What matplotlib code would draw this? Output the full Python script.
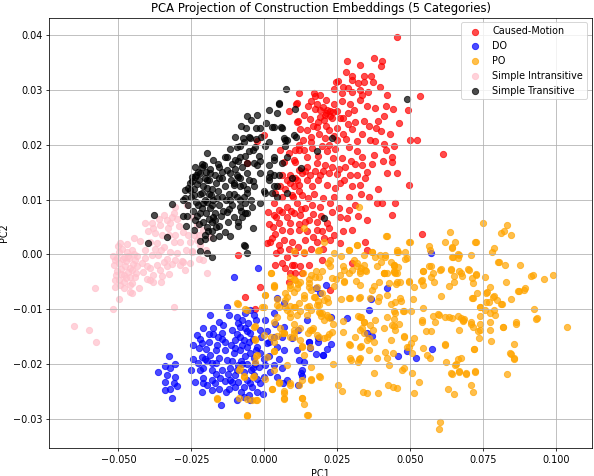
import matplotlib
matplotlib.use("Agg")
import matplotlib.pyplot as plt
import numpy as np

categories = ["Caused-Motion", "DO", "PO", "Simple Intransitive", "Simple Transitive"]
colors = ["red", "blue", "orange", "pink", "black"]

# (PC1, PC2), in units of 1e-3
caused_motion = [
    (45.5, 39.7), (37.6, 35.8), (40.3, 35.2), (39.9, 34.4), (28.3, 35.3), (32.6, 34.6), (28.0, 33.2),
    (30.0, 32.6), (34.2, 32.6), (25.1, 31.7), (24.5, 31.4), (30.0, 31.8), (31.9, 31.2), (34.0, 31.4),
    (37.2, 31.4), (23.7, 30.1), (26.6, 29.5), (28.5, 30.4), (30.0, 29.7), (32.6, 30.0), (35.4, 29.7),
    (42.0, 29.1), (12.0, 29.5), (17.1, 29.5), (18.9, 29.1), (17.5, 28.8), (10.9, 27.5), (14.8, 27.0),
    (17.5, 26.6), (19.2, 26.4), (21.5, 26.4), (22.6, 26.1), (24.0, 27.5), (26.7, 28.0), (29.4, 27.5),
    (32.6, 28.2), (35.1, 27.1), (37.9, 26.7), (41.5, 27.1), (8.3, 26.2), (49.3, 26.4), (20.8, 25.5),
    (23.1, 24.9), (26.0, 24.9), (28.5, 25.8), (30.6, 26.4), (11.5, 24.4), (15.5, 24.7), (18.3, 24.2),
    (20.3, 24.5), (28.5, 23.8), (31.2, 24.2), (34.0, 24.4), (38.8, 24.4), (41.1, 25.3), (12.3, 22.8),
    (14.6, 22.6), (18.0, 23.3), (22.0, 22.7), (24.9, 23.0), (30.0, 22.8), (38.4, 23.0), (13.3, 20.9),
    (15.8, 21.5), (18.6, 22.0), (20.8, 21.2), (23.7, 21.6), (26.9, 22.0), (50.0, 20.9), (52.3, 20.9),
    (31.7, 20.6), (36.3, 20.8), (38.0, 20.6), (40.8, 20.2), (44.3, 19.7), (41.8, 19.1), (10.5, 19.1),
    (13.5, 19.1), (16.3, 19.4), (19.8, 19.7), (21.5, 18.8), (24.3, 19.2), (28.9, 19.6), (31.7, 18.9),
    (33.4, 17.8), (37.4, 18.2), (43.6, 17.8), (21.0, 25.8), (22.5, 25.2), (20.0, 26.8), (19.0, 25.0),
    (23.5, 26.0), (18.0, 27.5), (53.2, 28.8), (61.1, 18.3), (49.6, 12.7), (54.0, 3.7),
    (11.2, 27.6), (11.2, 24.2), (-2.5, 20.7), (0.0, 21.8), (5.2, 19.1), (8.3, 18.5), (11.7, 19.1),
    (10.3, 17.2), (6.6, 16.9), (-5.9, 16.6), (11.7, 15.4), (8.9, 14.5), (11.2, 13.6), (7.8, 13.6),
    (5.5, 12.4), (10.0, 12.4), (10.6, 16.8), (14.6, 16.0), (18.0, 16.6), (20.8, 16.3), (23.1, 16.0),
    (27.7, 15.9), (31.1, 16.5), (33.4, 16.3), (35.1, 15.1), (34.5, 13.9), (31.7, 14.5), (29.4, 14.5),
    (24.9, 14.7), (22.0, 14.8), (19.2, 14.5), (15.7, 14.5), (12.9, 14.8), (10.5, 13.9), (8.8, 13.0),
    (11.7, 12.7), (14.6, 13.6), (16.3, 12.4), (18.5, 13.5), (21.5, 12.7), (24.3, 12.1), (27.2, 13.5),
    (30.0, 12.4), (32.9, 12.7), (42.0, 14.8), (45.4, 14.8), (43.6, 16.9), (38.6, 9.3), (40.3, 9.3),
    (44.9, 9.3), (43.6, 7.2), (35.1, 6.3), (28.3, 6.6), (28.9, 8.1), (25.4, 8.4), (25.9, 6.9),
    (22.6, 9.3), (19.2, 8.7), (16.3, 9.0), (14.0, 8.4), (11.2, 9.3), (7.8, 8.7), (4.9, 8.1),
    (3.2, 7.2), (7.8, 6.9), (10.0, 7.5), (12.3, 7.2), (15.2, 6.3), (18.0, 6.0), (21.5, 5.7),
    (8.8, 5.7), (6.0, 4.5), (8.8, 4.2), (11.7, 4.5), (14.6, 4.2), (18.0, 4.5), (19.7, 4.2),
    (22.0, 4.8), (2.0, 2.3), (4.9, 1.7), (6.6, 2.6), (9.5, 2.3), (14.0, 2.6), (18.0, 2.3),
    (22.6, 2.6), (25.9, 2.0), (34.5, 2.3), (19.7, -1.0), (5.4, 0.8), (7.8, -0.4), (6.0, -1.6),
    (10.0, -1.9), (12.3, -2.2), (15.2, -1.9), (7.1, -2.5), (8.8, -3.4), (3.7, 11.2), (6.0, 10.5),
    (3.2, 9.3), (1.5, 5.5), (3.5, 3.8), (1.2, 7.8), (5.0, 5.8), (9.8, 10.5), (13.0, 10.8),
    (17.0, 11.0), (20.0, 10.3), (24.0, 10.5), (10.5, 0.2), (13.5, 0.2), (3.7, -1.9), (9.5, -1.9),
    (10.5, -3.4), (12.9, -3.4), (8.3, -5.0), (-1.5, -5.9), (30.0, -1.6), (35.1, 0.8), (22.6, -6.5),
    (-9.1, -0.1), (-6.7, -7.7), (-3.2, -9.9),
    (2.5, 3.0), (4.0, 6.8), (6.2, 7.8), (9.0, 8.0), (12.5, 8.2), (13.8, 6.0), (16.8, 7.3),
    (19.5, 7.0), (23.0, 7.8), (9.3, 10.8), (12.0, 11.5), (15.0, 10.2), (7.0, 12.0), (6.0, 14.5),
    (14.0, 15.2), (17.2, 15.3), (20.0, 15.2), (25.5, 15.5), (26.0, 13.0), (29.0, 10.5), (31.0, 9.0),
    (33.0, 11.0), (36.0, 10.5), (23.5, 17.5), (26.5, 17.5), (29.5, 17.0), (18.5, 18.0), (14.5, 17.8),
    (12.0, 20.0), (16.0, 20.5), (22.0, 20.0), (25.0, 20.8), (28.0, 21.0), (33.5, 22.0), (36.0, 23.5),
    (27.0, 24.8), (25.0, 26.2), (21.0, 23.5), (16.5, 23.5), (13.5, 25.5), (16.0, 28.0), (21.0, 28.2),
    (27.0, 30.5), (33.5, 29.0), (36.5, 32.5), (3.0, 5.0), (1.0, 2.0), (4.0, 0.3), (8.5, 1.0),
    (11.5, 1.3), (16.0, 1.0), (20.0, 1.0), (12.0, 5.5), (16.5, 3.2), (20.5, 3.0), (24.0, 3.5),
    (27.0, 4.2), (30.0, 4.5), (32.0, 7.0), (39.0, 12.0), (37.0, 16.5), (40.5, 17.0), (40.0, 22.5),
    (43.0, 22.0), (46.0, 24.0), (44.0, 26.5), (39.5, 30.5),
]

do = [
    (-32.8, -18.5), (-30.5, -19.9), (-34.0, -20.3), (-36.6, -21.4), (-33.4, -22.0), (-30.5, -22.3),
    (-34.0, -23.2), (-31.1, -23.5), (-32.2, -24.6), (-29.9, -24.0), (-31.7, -26.1), (-34.0, -24.7),
    (-32.2, -20.7), (-18.6, -11.0), (-15.6, -12.3), (-12.2, -11.0), (-9.4, -11.4), (-6.6, -10.7),
    (-4.9, -10.1), (-12.9, -9.5), (-23.1, -14.7), (-20.9, -13.5), (-17.5, -13.5), (-14.6, -14.4),
    (-11.2, -13.8), (-8.3, -13.2), (-4.9, -14.4), (-1.5, -13.8), (0.3, -12.0), (3.7, -12.6),
    (6.6, -13.2), (3.2, -10.7), (4.3, -8.0), (6.6, -8.9), (-21.4, -16.2), (-19.1, -15.9),
    (-16.3, -16.5), (-13.4, -15.9), (-10.0, -15.6), (-7.1, -15.6), (-5.9, -16.8), (-8.3, -17.4),
    (-10.5, -18.0), (-4.9, -18.0), (-2.5, -16.8), (0.9, -16.2), (4.3, -16.8), (6.6, -17.4),
    (3.2, -15.0), (6.0, -15.0), (-24.3, -19.1), (-21.4, -18.7), (-18.6, -18.4), (-15.6, -18.9),
    (-12.9, -19.3), (-20.9, -20.8), (-18.0, -21.1), (-14.6, -21.1), (-11.7, -20.8), (-8.9, -20.2),
    (-5.9, -19.9), (-3.2, -19.9), (0.2, -20.2), (3.2, -20.2), (6.0, -20.8), (-20.9, -22.6),
    (-18.0, -22.9), (-15.2, -22.6), (-11.7, -22.9), (-8.9, -23.2), (-5.9, -22.9), (-3.7, -22.0),
    (-0.3, -22.3), (4.3, -22.3), (7.7, -22.9), (-23.7, -23.2), (-21.4, -25.0), (-18.0, -24.7),
    (-10.0, -24.1), (-7.1, -24.1), (-4.3, -24.1), (-5.4, -25.6), (-14.8, -27.5), (-9.4, -26.6),
    (-4.9, -26.6), (12.9, -21.1), (15.2, -15.9), (15.7, -17.1), (20.2, -18.3), (18.5, -15.9),
    (11.1, -17.4), (11.7, -19.3), (9.4, -15.3), (-9.5, -14.5), (-7.5, -16.5), (-6.0, -14.0),
    (-4.0, -15.5), (-3.0, -17.5), (-6.5, -18.5), (-8.0, -19.5), (-4.5, -21.0), (-7.0, -21.5),
    (-10.0, -22.0), (-2.0, -20.5), (-9.0, -12.5), (-11.5, -16.5), (-13.5, -17.5), (-16.5, -19.8),
    (-19.5, -19.5), (-22.0, -21.0), (-19.5, -23.8), (-16.5, -21.8), (-13.5, -23.0), (-12.0, -24.5),
    (-22.5, -17.0), (-17.5, -14.5), (-14.0, -12.8), (-7.0, -26.0), (-2.5, -25.0), (-1.5, -23.5),
    (-3.0, -12.0), (-5.5, -12.5), (-1.0, -15.0), (1.5, -18.5), (1.0, -14.0), (-12.5, -21.8),
    (-20.0, -17.2), (57.0, 0.2), (21.1, -5.6), (17.6, -6.1), (19.2, -7.0), (41.9, -6.2),
    (36.4, -8.2), (35.9, -10.1), (28.2, -11.6), (22.8, -11.5), (14.6, -12.0), (35.3, -14.3),
    (37.0, -14.9), (15.3, -16.0), (18.2, -15.2), (22.8, -16.4), (21.6, -17.3), (17.6, -18.2),
    (20.1, -18.4), (49.0, -17.6), (45.8, -18.5), (52.1, -18.9), (57.3, -17.2), (13.6, -19.7),
    (12.6, -21.6), (13.0, -22.2), (11.6, -23.8), (11.4, -13.7), (-2.3, -2.5), (-10.5, -4.1),
    (-10.0, -17.0), (-8.5, -15.0), (-6.8, -13.5), (-5.2, -16.0), (-3.5, -18.8), (-7.5, -20.0),
    (-9.5, -21.0), (-5.0, -23.5), (-11.0, -19.5), (-16.5, -17.5), (-18.0, -19.8), (-20.5, -19.0),
    (-22.8, -19.8), (-21.0, -23.5), (-17.0, -23.5), (-15.5, -24.5), (-13.0, -25.0), (-11.0, -23.2),
    (-8.0, -25.0), (-4.0, -20.8), (-2.5, -22.8), (0.0, -19.0), (2.0, -21.5), (1.5, -16.0),
    (-1.5, -18.0), (-14.5, -15.5), (-16.0, -15.0), (-19.0, -14.5), (-22.0, -15.5), (-24.5, -16.5),
    (-25.0, -21.0), (-3.5, -11.0), (-7.5, -12.0), (5.0, -19.0), (6.5, -23.5), (-0.5, -25.5),
]

po = [
    (49.7, 2.3), (56.3, 1.6), (62.0, 2.3), (65.4, 2.3), (72.5, 2.2), (64.2, 1.1), (78.5, 1.1),
    (31.7, 1.7), (29.1, 0.8), (36.9, 0.5), (45.7, 0.5), (24.0, 0.2), (18.3, 0.6), (66.2, 0.0),
    (64.5, -0.4), (40.0, -1.4), (43.4, -1.4), (30.6, -1.0), (26.8, -2.1), (33.1, -2.4), (79.9, -1.4),
    (82.5, -2.0), (87.7, -2.0), (54.2, -3.0), (57.1, -2.1), (60.5, -2.7), (63.9, -2.7), (67.4, -3.3),
    (69.6, -2.7), (72.5, -3.6), (75.7, -4.2), (91.3, -3.9), (95.9, -4.4), (98.7, -3.8), (44.5, -3.2),
    (40.9, -3.3), (34.8, -3.0), (31.4, -4.8), (27.4, -4.8), (24.6, -4.5), (37.7, -5.7), (45.1, -5.4),
    (49.7, -4.8), (53.7, -4.8), (57.1, -4.2), (63.4, -5.7), (60.5, -7.6), (71.1, -7.9), (75.9, -7.0),
    (78.8, -7.6), (84.5, -8.2), (89.0, -6.4), (86.8, -6.7), (76.8, -8.7), (81.1, -9.1), (74.0, -9.5),
    (54.2, -9.7), (59.4, -10.9), (63.4, -11.4), (66.2, -11.2), (68.5, -11.8), (70.8, -12.4),
    (57.6, -11.2), (54.0, -12.3), (50.2, -10.4), (47.4, -10.3), (44.8, -10.6), (43.4, -9.1),
    (44.5, -11.8), (44.5, -13.0), (47.9, -14.9), (50.2, -16.2), (62.0, -16.4), (71.9, -17.3),
    (73.0, -14.0), (77.6, -15.8), (81.8, -13.2), (86.2, -12.6), (92.2, -9.9), (93.3, -11.6),
    (103.7, -13.2), (85.4, -16.3), (84.5, -18.2), (85.4, -19.0), (83.1, -21.8), (66.4, -19.1),
    (65.6, -20.0), (66.8, -21.3), (63.9, -21.7), (69.1, -21.7), (72.2, -21.3), (70.6, -23.9),
    (71.3, -25.1), (62.8, -24.5), (64.8, -25.5), (60.2, -30.6), (59.7, -31.8), (52.9, -23.3),
    (50.6, -21.6), (47.0, -21.0), (47.9, -20.7), (45.4, -24.3), (42.5, -23.9), (44.0, -24.1),
    (38.8, -25.2), (35.2, -25.2), (33.7, -25.1), (51.2, -25.3), (26.6, -24.9), (25.1, -23.8),
    (32.5, -19.1), (32.0, -19.7), (29.7, -19.3), (36.0, -17.5), (41.4, -17.8), (43.9, -18.0),
    (42.6, -20.2), (37.7, -21.6), (29.1, -16.4), (33.1, -16.7), (34.2, -14.3), (33.4, -13.5),
    (37.1, -13.8), (35.9, -15.2), (26.8, -14.1), (23.4, -20.0), (18.8, -22.2), (16.0, -22.8),
    (12.8, -26.2), (13.7, -27.3), (14.8, -29.3), (12.8, -16.7), (14.8, -14.3), (16.5, -13.4),
    (22.3, -14.6), (23.4, -12.7), (26.8, -12.1), (33.1, -11.5), (32.0, -11.2), (34.2, -12.3),
    (19.4, -11.2), (21.7, -11.5), (18.8, -10.5), (12.0, -8.8), (15.4, -9.4), (18.3, -8.5),
    (21.7, -8.7), (26.3, -8.2), (29.1, -7.9), (32.5, -7.9), (38.8, -8.5), (46.8, -8.5), (50.8, -8.2),
    (11.4, -5.4), (15.4, -4.5), (18.8, -4.2), (24.0, -5.7), (13.1, -3.3), (17.7, -3.0), (21.7, -1.5),
    (26.3, -0.3), (67.9, -12.1), (55.4, -14.0), (62.2, -19.7),
    (3.4, -5.7), (0.3, -7.4), (-9.1, -9.0), (-5.9, -10.1), (-3.4, -13.2), (-3.1, -15.6),
    (-2.7, -18.6), (-8.6, -21.0), (-7.1, -22.3), (-3.9, -22.3), (-16.2, -26.2), (-8.8, -26.1),
    (-5.9, -29.3), (-4.3, -26.6), (-2.5, -26.6), (0.3, -22.8), (2.6, -24.6), (6.6, -25.3),
    (6.6, -26.2), (4.9, -23.2), (7.7, -20.2), (0.9, -18.7), (-0.2, -14.7), (3.2, -15.9),
    (3.4, -17.7), (12.9, -26.2), (14.6, -29.3), (12.9, -22.9), (15.8, -22.9), (19.2, -22.3),
    (8.9, -23.5), (11.7, -23.8), (13.5, -18.3), (15.8, -20.5), (-0.2, -9.5), (4.3, -9.2),
    (7.2, -9.5), (10.0, -9.5), (14.6, -9.5), (18.0, -9.2), (8.9, -10.7), (11.2, -11.0),
    (14.6, -11.0), (19.8, -10.7), (16.3, -13.8), (18.0, -14.7), (20.3, -15.3), (10.0, -13.8),
    (6.0, -14.4), (8.9, -15.0), (12.9, -16.8), (3.2, -5.9), (8.9, -5.6), (11.2, -6.2),
    (15.2, -5.9), (18.0, -5.9), (7.7, -7.7), (13.5, -8.0), (16.9, -7.7), (20.3, -8.3),
    (13.7, 4.9), (32.5, 8.7), (10.0, 0.7), (13.5, 0.5), (20.3, 2.2), (18.6, 0.8), (28.9, 0.8),
    (31.7, 1.7), (42.0, 3.4), (45.4, 0.8), (36.9, 0.5), (39.7, -0.1), (41.4, -0.4), (2.1, -3.4),
    (8.9, -4.1), (10.6, -4.7), (12.3, -5.0), (15.8, -3.7), (17.5, -4.1), (19.8, -3.1), (22.6, -2.2),
    (23.1, -4.3), (26.0, -3.7), (27.2, -2.8), (31.7, -2.2), (32.9, -3.4), (34.5, -2.8), (38.6, -2.2),
    (40.9, -3.4), (44.3, -2.2), (44.9, -3.4), (22.6, -1.0), (15.2, -5.3), (8.9, -6.2), (10.0, -6.8),
    (13.5, -7.4), (15.8, -6.5), (17.5, -7.7), (19.8, -7.1), (21.5, -8.0), (18.6, -9.2),
    (3.2, -5.6), (0.3, -7.4), (7.2, -8.3), (4.9, -9.5), (7.7, -10.1), (10.6, -9.5), (12.3, -10.4),
    (15.8, -10.1), (19.2, -10.7), (21.5, -11.0), (20.3, -12.0), (22.6, -11.6), (15.7, -13.8),
    (12.3, -13.5), (10.0, -12.6), (5.5, -13.5), (3.2, -12.3), (2.1, -15.0), (6.6, -14.4),
    (10.0, -15.0), (12.3, -15.6), (15.7, -16.8), (18.6, -15.0), (21.5, -15.0), (23.2, -14.1),
    (27.2, -5.0), (28.9, -3.4), (30.0, -2.8), (32.9, -3.1), (34.0, -1.9), (31.7, -1.6), (34.0, -0.1),
    (38.0, -0.4), (41.4, -0.1), (42.0, -3.4), (45.4, -3.4), (46.5, -5.0), (48.3, 0.5), (44.3, -1.9),
    (48.9, -0.7), (39.1, -5.0), (36.9, -6.5), (32.9, -5.6), (29.4, -8.0), (32.9, -7.7), (36.3, -8.0),
    (39.1, -7.7), (42.0, -7.4), (44.9, -8.6), (46.5, -8.0), (44.3, -10.4), (47.7, -10.4),
    (42.0, -11.4), (32.9, -11.4), (34.0, -12.3), (36.3, -12.9), (38.0, -12.0), (40.9, -13.5),
    (43.7, -12.9), (46.0, -12.6), (47.7, -15.0), (44.9, -13.8), (32.9, -13.8), (35.1, -15.6),
    (31.2, -15.0), (29.4, -16.5), (32.9, -16.8), (37.4, -15.9), (43.2, -15.6), (48.9, -16.8),
    (42.0, -18.9), (38.6, -18.9), (32.9, -18.9), (29.4, -18.9),
    (74.9, 5.8), (83.1, 5.4), (82.2, 4.3), (81.1, 3.9), (84.5, 3.6), (63.5, 4.0), (41.8, 3.4),
    (49.8, 2.2), (72.3, 2.2), (56.6, 0.8), (64.3, 1.3), (66.6, -0.1), (64.3, -0.4),
    (66.2, -0.7), (70.6, -0.1), (77.8, 0.4), (80.2, -1.3), (45.4, 0.5), (48.1, -0.9), (44.3, -1.9),
    (41.1, -3.3), (44.3, -3.1), (45.7, -2.3), (56.3, -2.2), (54.3, -3.1), (57.8, -3.4), (60.3, -2.8),
    (63.9, -2.8), (66.5, -3.1), (70.0, -2.8), (72.6, -3.7), (64.8, -4.0), (67.7, -4.0), (71.1, -4.3),
    (64.8, -5.0), (71.5, -5.3), (58.0, -5.0), (54.0, -4.7), (54.3, -5.6), (51.1, -5.9), (49.4, -5.0),
    (45.4, -5.0), (42.6, -5.3), (82.9, -5.0), (92.0, -3.7), (89.2, -6.2), (87.1, -6.6), (81.4, -9.0),
    (79.7, -8.3), (78.2, -7.7), (78.5, -10.1), (76.3, -6.8), (77.2, -5.9), (74.0, -9.6), (75.4, -10.1),
    (77.4, -10.7), (79.1, -11.0), (72.8, -7.1), (76.0, -8.6), (71.5, -8.0), (93.1, -11.7),
    (86.3, -12.4), (81.7, -13.2), (77.4, -12.3), (77.4, -13.7), (73.8, -11.2), (74.0, -12.6),
    (70.6, -12.6), (71.5, -13.2), (67.2, -11.6), (68.1, -12.0), (64.3, -11.6), (62.0, -11.4),
    (59.7, -11.0), (58.6, -12.3), (54.0, -12.0), (57.1, -14.0), (66.8, -13.8), (62.0, -16.5),
    (54.3, -17.0), (55.7, -18.3), (56.6, -18.8), (50.6, -18.0), (49.4, -16.8), (51.1, -15.3),
    (67.4, -18.9), (65.4, -20.2), (66.5, -21.4), (64.3, -21.8), (69.2, -21.8), (72.3, -21.4),
    (71.7, -17.3), (73.4, -15.3), (74.0, -13.8), (84.2, -18.0), (85.6, -18.9),
    (2.3, -3.4), (-0.7, -9.5), (-9.4, -8.9), (-6.5, -10.0), (-3.1, -13.0), (-3.1, -15.5),
    (-2.5, -18.4), (-3.1, -19.6), (-8.5, -20.8), (-7.1, -22.2), (-3.7, -22.2), (-16.2, -26.3),
    (-5.9, -26.4), (-2.8, -26.6), (-5.9, -29.5), (2.6, -24.6), (4.9, -23.4), (6.6, -26.4),
    (3.2, -21.0), (3.2, -17.6), (4.3, -14.9), (6.6, -14.3), (4.3, -11.5), (8.9, -11.5), (4.3, -8.2),
    (10.0, -4.5), (7.2, -7.0), (8.9, -9.4), (10.0, -14.3), (8.9, -23.9), (6.6, -24.9),
]

simple_intransitive = [
    (-65.1, -13.0), (-60.1, -13.7), (-57.6, -15.9), (-58.0, -6.2), (-51.9, -9.9), (-49.9, -8.2),
    (-31.1, -9.5), (-45.2, -7.0), (-40.3, -4.5), (-38.0, -5.1), (-35.4, -5.0), (-19.7, -3.3),
    (-28.3, -1.2), (-24.9, 0.6), (-22.5, -0.9), (-51.1, -5.9), (-49.9, -4.7), (-48.2, -6.2),
    (-45.9, -6.8), (-43.0, -6.2), (-45.3, -5.3), (-49.4, 2.0), (-47.1, 1.9), (-45.3, 0.8),
    (-49.9, 0.5), (-48.2, -0.4), (-46.5, -0.7), (-44.3, -1.0), (-49.9, -1.6), (-47.7, -2.2),
    (-45.3, -2.8), (-43.6, -2.2), (-50.5, -3.1), (-48.2, -3.7), (-45.9, -4.1), (-44.2, -4.1),
    (-51.1, -4.7), (-48.8, 1.0), (-46.8, -0.2), (-50.5, -0.6), (-47.3, -1.2), (-49.2, -2.6),
    (-46.8, -3.2), (-48.0, -5.0), (-51.5, -2.0), (-44.8, 0.0), (-50.0, 1.5), (-47.5, -4.3),
    (-45.0, -1.8), (-40.9, 5.7), (-38.6, 5.7), (-35.7, 5.4), (-34.3, 7.2), (-31.1, 7.5),
    (-32.2, 5.7), (-29.4, 5.1), (-30.5, 3.6), (-28.8, 2.3), (-26.0, 3.6), (-25.4, 2.3),
    (-23.1, 2.6), (-24.9, 0.5), (-22.0, 1.7), (-20.9, 4.5), (-18.6, 3.2), (-20.9, -1.0),
    (-27.2, -2.8), (-27.7, -1.3), (-30.5, -1.0), (-29.9, 0.2), (-32.2, 0.5), (-34.5, 1.4),
    (-36.8, 2.0), (-39.1, 2.3), (-40.9, 0.8), (-40.9, -0.7), (-38.6, -0.1), (-36.3, -0.1),
    (-34.5, -1.3), (-36.8, -1.9), (-39.1, -2.5), (-35.7, -2.8), (-33.4, -2.2), (-40.3, -2.2),
    (-39.1, -4.7), (-38.0, -3.7), (-31.1, 2.3), (-32.8, 3.6), (-35.1, 3.6), (-37.4, 3.9),
    (-39.7, 4.2), (-33.4, 6.3), (-30.5, 8.7), (-31.7, 6.9), (-26.6, 9.0), (-24.9, 6.9),
    (-23.1, 5.4), (-22.5, 3.6), (-19.9, 0.8),
    (-51.0, -1.0), (-49.0, -3.5), (-47.0, 0.5), (-46.0, -2.5), (-44.0, -3.3), (-50.8, -3.8),
    (-48.5, -0.9), (-46.0, -5.5), (-43.5, -0.3), (-52.0, -0.3), (-49.5, -5.5), (-42.0, -1.5),
    (-41.5, -3.2), (-37.5, 1.0), (-35.5, 0.8), (-33.5, -0.8), (-31.5, -1.8), (-29.0, -2.0),
    (-38.0, 4.8), (-36.0, 6.5), (-33.0, 4.8), (-30.0, 6.5), (-28.0, 4.0), (-27.0, 0.8),
    (-25.5, -1.5), (-24.0, 3.5), (-35.0, -4.0), (-32.5, -3.5), (-42.5, 2.5), (-44.5, 3.0),
]

simple_transitive = [
    (7.4, 30.2), (5.0, 27.5), (1.5, 26.4), (4.3, 25.8), (-5.9, 25.3), (-6.2, 23.0), (-5.4, 21.5),
    (-10.0, 21.5), (-11.7, 19.2), (-8.3, 19.7), (-5.4, 18.8), (2.6, 23.3), (6.0, 23.0), (6.6, 21.2),
    (7.2, 19.7), (3.2, 17.8), (-12.8, 17.8), (-10.0, 17.2), (-5.9, 16.6), (-2.5, 16.3), (2.0, 14.8),
    (4.9, 14.5), (-1.4, 14.8), (-15.7, 16.0), (-20.8, 16.3), (-23.7, 16.0), (-22.0, 14.8),
    (-18.6, 14.8), (-24.9, 14.2), (-11.7, 14.8), (-8.9, 14.2), (-10.5, 12.7), (-7.2, 12.7),
    (-3.8, 13.3), (-0.2, 11.5), (3.2, 12.4), (4.3, 10.5), (7.8, 11.2), (-1.4, 9.3), (-4.2, 8.7),
    (-8.3, 8.7), (-11.7, 9.9), (-12.8, 7.8), (-10.5, 6.9), (-6.6, 7.5), (-3.8, 4.8), (-8.9, 5.1),
    (-17.5, 6.9), (-15.7, 5.1), (-19.2, 4.2), (-31.7, 9.2), (-37.8, 7.2), (-33.4, 3.2),
    (-27.7, 9.9), (-27.2, 11.8), (-39.9, 2.0), (-27.8, 7.0), (-26.7, 5.1), (-20.3, 2.8),
    (-22.2, 0.6), (-19.7, 0.2), (-18.0, -0.4), (-18.0, 4.2), (-15.5, 3.4), (-11.9, 3.4),
    (-6.7, 1.6), (-5.9, 0.2), (-27.2, 10.3), (5.1, 27.6), (10.5, 26.6), (5.6, 23.2), (3.2, 23.2),
    (10.0, 21.8), (23.1, 21.2), (7.7, 20.9), (17.9, 18.8), (0.2, 19.7), (48.8, 28.4), (20.3, 6.7),
    (10.7, 21.5), (12.5, 15.7), (-6.9, 1.7), (1.5, 14.2), (3.2, 14.5), (4.3, 12.4), (2.6, 11.2),
    (0.3, 11.2), (6.0, 16.6), (9.4, 13.9), (-5.9, 14.8), (-5.4, 13.6), (-3.7, 12.4), (-5.9, 11.2),
    (-6.6, 9.3), (-5.9, 7.5), (-4.9, 21.2), (-7.4, 21.3), (-3.2, 19.6), (-17.5, 17.2), (-21.4, 16.0),
    (-22.6, 15.1), (-23.7, 14.2), (-24.9, 13.3), (-26.0, 12.1), (7.2, 20.9), (7.7, 17.8),
    (3.2, 17.2), (1.5, 16.3), (1.5, 13.6), (-3.7, 16.6), (-9.4, 14.5), (-12.8, 15.4), (-14.5, 13.9),
    (-10.5, 13.0), (-8.3, 12.4), (-13.4, 17.8), (-8.3, 17.8), (-19.7, 18.5),
    (-25.5, 13.0), (-24.0, 12.0), (-22.5, 13.5), (-21.0, 12.5), (-19.5, 13.5), (-18.0, 12.0),
    (-16.5, 13.0), (-25.0, 10.5), (-23.5, 9.5), (-22.0, 11.0), (-20.5, 10.0), (-19.0, 11.0),
    (-17.5, 10.0), (-16.0, 11.5), (-24.5, 8.0), (-23.0, 7.0), (-21.5, 8.5), (-20.0, 7.5),
    (-18.5, 8.5), (-17.0, 7.5), (-15.5, 9.0), (-22.5, 5.5), (-21.0, 6.0), (-19.5, 5.0),
    (-18.0, 6.0), (-16.5, 5.0), (-23.5, 14.5), (-20.0, 15.0), (-18.5, 15.5), (-17.0, 14.5),
    (-14.5, 10.5), (-14.0, 8.0), (-13.5, 12.5), (-26.0, 9.0), (-24.0, 4.5), (-20.5, 3.5),
    (-22.0, 2.5), (-17.5, 3.0), (-26.5, 7.0), (-21.5, 16.5), (-16.0, 16.5), (-14.5, 15.0),
    (-12.0, 11.0), (-11.0, 9.0), (-9.5, 10.5), (-8.0, 8.0), (-9.0, 6.0), (-12.5, 6.0),
    (-13.5, 4.0), (-7.0, 10.5), (-6.0, 12.0), (-4.5, 10.0), (-11.5, 13.5), (-10.0, 15.5),
    (-7.5, 16.0), (-8.5, 14.0), (-6.5, 18.0), (-9.5, 19.5), (-4.0, 19.0), (-2.0, 18.0),
    (-1.0, 21.5), (-3.0, 23.0), (-8.0, 23.5), (-2.5, 25.5), (0.5, 24.0),
    (-23.0, 12.8), (-21.5, 11.2), (-19.8, 12.2), (-18.2, 10.8), (-24.0, 10.8), (-22.7, 9.0),
    (-21.0, 9.3), (-19.5, 9.5), (-17.8, 9.0), (-16.3, 10.2), (-23.8, 6.2), (-22.0, 7.5),
    (-19.0, 6.5), (-17.0, 6.2), (-25.5, 11.8), (-20.5, 14.0), (-18.8, 13.5), (-15.5, 14.0),
    (-15.0, 7.0), (-13.0, 10.0), (-12.0, 8.3), (-10.5, 11.0), (-8.5, 10.0), (-7.5, 6.8),
    (-11.0, 16.5), (-9.0, 17.0), (-7.0, 20.5), (-3.0, 21.0), (-1.5, 17.0), (-4.5, 24.5),
    (-1.5, 23.0), (1.5, 20.5),
]

groups = [caused_motion, do, po, simple_intransitive, simple_transitive]

dpi = 69.5
fig = plt.figure(figsize=(594 / dpi, 476 / dpi), dpi=dpi)
ax = fig.add_axes([0.0833, 0.0588, 0.9128, 0.9044])

for name, color, pts in zip(categories, colors, groups):
    arr = np.array(pts) * 1e-3
    ax.scatter(arr[:, 0], arr[:, 1], c=color, label=name, alpha=0.7, s=42)

ax.set_xlim(-0.0736, 0.1121)
ax.set_ylim(-0.0353, 0.0432)
ax.set_title("PCA Projection of Construction Embeddings (5 Categories)")
ax.set_xlabel("PC1")
ax.set_ylabel("PC2")
ax.legend(loc="upper right")
ax.grid(True)

fig.savefig("out.png", dpi=dpi)
